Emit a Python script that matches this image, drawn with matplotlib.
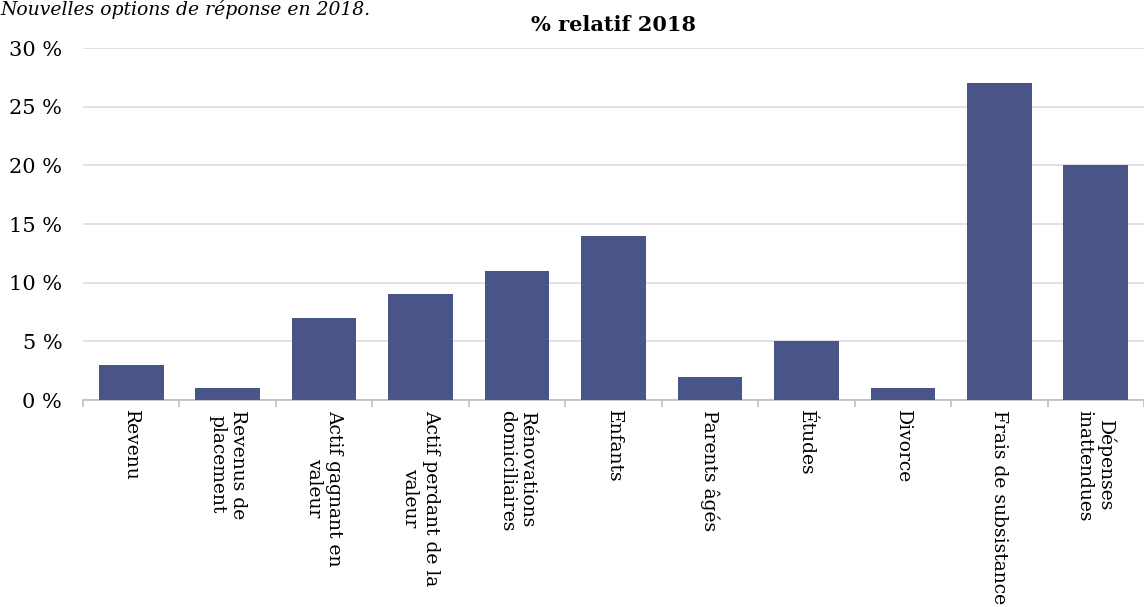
import matplotlib
matplotlib.use("Agg")
import matplotlib.pyplot as plt
import numpy as np

categories = ["Revenu", "Revenus de\nplacement", "Actif gagnant en\nvaleur",
              "Actif perdant de la\nvaleur", "Rénovations\ndomiciliaires", "Enfants",
              "Parents âgés", "Études", "Divorce", "Frais de subsistance",
              "Dépenses\ninattendues"]
values = [3, 1, 7, 9, 11, 14, 2, 5, 1, 27, 20]
yticks = [0, 5, 10, 15, 20, 25, 30]

bar_color = "#4a5587"
grid_color = "#dcdce3"

plt.rcParams["font.family"] = ["DejaVu Serif"]

fig = plt.figure(figsize=(11.44, 6.07), dpi=100)
ax = fig.add_axes([83 / 1144, 1 - 400 / 607, 1 - 83 / 1144, (400 - 48) / 607])

x = np.arange(len(categories))
ax.bar(x, values, width=0.67, color=bar_color, zorder=3)

ax.set_xlim(-0.5, len(categories) - 0.5)
ax.set_ylim(0, 30)
ax.set_yticks(yticks)
ax.set_yticklabels([f"{v} %" for v in yticks], fontsize=15)
ax.yaxis.grid(True, color=grid_color, linewidth=1.2, zorder=0)
ax.tick_params(axis="y", length=0, pad=15)

ax.set_xticks(x)
ax.set_xticklabels(categories, rotation=-90, fontsize=13.5, va="top", ha="center",
                   multialignment="center")
ax.tick_params(axis="x", which="major", length=0, pad=7)
ax.set_xticks(np.arange(-0.5, len(categories)), minor=True)
ax.tick_params(axis="x", which="minor", length=5, color="#bfbfbf", width=1.2)

for s in ["top", "right", "left"]:
    ax.spines[s].set_visible(False)
ax.spines["bottom"].set_color("#bfbfbf")
ax.spines["bottom"].set_linewidth(1.2)

fig.text(0.5365, 1 - 25 / 607, "% relatif 2018", ha="center", va="center",
         fontsize=15, fontweight="bold")
fig.text(0.0, 1 - 15 / 607, "Nouvelles options de réponse en 2018.", ha="left",
         va="baseline", fontsize=13.5, style="italic")

fig.savefig("out.png", dpi=100)
